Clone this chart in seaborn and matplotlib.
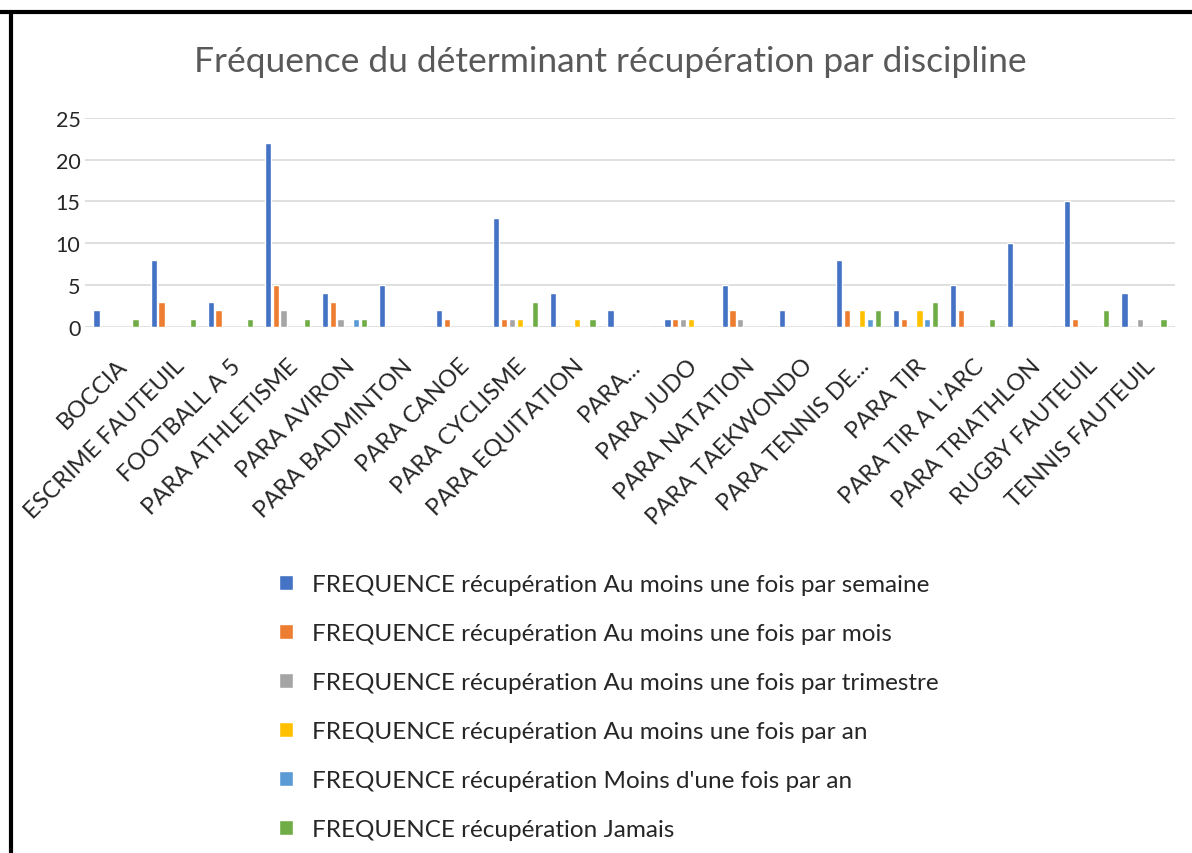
import numpy as np
import pandas as pd
import matplotlib
matplotlib.use('Agg')
import matplotlib.pyplot as plt
from matplotlib.lines import Line2D
import seaborn as sns

# ------------------------------------------------------------
# données
# ------------------------------------------------------------
disciplines = ['BOCCIA', 'ESCRIME FAUTEUIL', 'FOOTBALL A 5', 'PARA ATHLETISME',
               'PARA AVIRON', 'PARA BADMINTON', 'PARA CANOE', 'PARA CYCLISME',
               'PARA EQUITATION', 'PARA...', 'PARA JUDO', 'PARA NATATION',
               'PARA TAEKWONDO', 'PARA TENNIS DE...', 'PARA TIR', "PARA TIR A L'ARC",
               'PARA TRIATHLON', 'RUGBY FAUTEUIL', 'TENNIS FAUTEUIL']

semaine   = [2, 8, 3, 22, 4, 5, 2, 13, 4, 2, 1, 5, 2, 8, 2, 5, 10, 15, 4]
mois      = [0, 3, 2, 5, 3, 0, 1, 1, 0, 0, 1, 2, 0, 2, 1, 2, 0, 1, 0]
trimestre = [0, 0, 0, 2, 1, 0, 0, 1, 0, 0, 1, 1, 0, 0, 0, 0, 0, 0, 1]
an        = [0, 0, 0, 0, 0, 0, 0, 1, 1, 0, 1, 0, 0, 2, 2, 0, 0, 0, 0]
moins_an  = [0, 0, 0, 0, 1, 0, 0, 0, 0, 0, 0, 0, 0, 1, 1, 0, 0, 0, 0]
jamais    = [1, 1, 1, 1, 1, 0, 0, 3, 1, 0, 0, 0, 0, 2, 3, 1, 0, 2, 1]

series = ['FREQUENCE récupération Au moins une fois par semaine',
          'FREQUENCE récupération Au moins une fois par mois',
          'FREQUENCE récupération Au moins une fois par trimestre',
          'FREQUENCE récupération Au moins une fois par an',
          "FREQUENCE récupération Moins d'une fois par an",
          'FREQUENCE récupération Jamais']
couleurs = ['#4472C4', '#ED7D31', '#A5A5A5', '#FFC000', '#5B9BD5', '#70AD47']

valeurs = [semaine, mois, trimestre, an, moins_an, jamais]
rows = []
for nom, vals in zip(series, valeurs):
    for d, v in zip(disciplines, vals):
        rows.append({'discipline': d, 'serie': nom, 'valeur': v})
df = pd.DataFrame(rows)

# ------------------------------------------------------------
# figure
# ------------------------------------------------------------
sns.set_style('white')
plt.rcParams['font.family'] = ['Lato', 'DejaVu Sans']

fig = plt.figure(figsize=(11.92, 8.54), dpi=100)
ax = fig.add_axes([0.071, 0.616, 0.915, 0.245])

sns.barplot(data=df, x='discipline', y='valeur', hue='serie',
            hue_order=series, palette=couleurs, order=disciplines,
            width=0.82, gap=0.2, saturation=1, errorbar=None, ax=ax, legend=True)

ax.set_ylim(0, 25)
ax.set_yticks([0, 5, 10, 15, 20, 25])
ax.set_xlim(-0.55, len(disciplines) - 0.45)
ax.yaxis.grid(True, color='#D9D9D9', linewidth=1.2)
ax.set_axisbelow(True)
for s in ax.spines.values():
    s.set_visible(False)
ax.set_xlabel('')
ax.set_ylabel('')
ax.tick_params(axis='y', length=0, labelsize=15.5, pad=3)
ax.tick_params(axis='x', length=0, labelsize=17, pad=20)
plt.setp(ax.get_xticklabels(), rotation=45, ha='right', rotation_mode='anchor',
         color='#262626')

fig.text(0.512, 0.927, 'Fréquence du déterminant récupération par discipline',
         ha='center', va='center', fontsize=25.5, color='#595959')

handles, labels = ax.get_legend_handles_labels()
ax.get_legend().remove()
fig.legend(handles, labels, loc='upper left', bbox_to_anchor=(0.216, 0.352),
           frameon=False, fontsize=17.5, labelspacing=1.15, handlelength=0.55,
           handleheight=0.6, handletextpad=0.8, labelcolor='#262626')

# cadre noir de la capture
fig.add_artist(Line2D([0, 1], [0.985, 0.985], color='black', linewidth=3,
                      transform=fig.transFigure))
fig.add_artist(Line2D([0.009, 0.009], [0, 0.985], color='black', linewidth=3,
                      transform=fig.transFigure))

plt.savefig('out.png', dpi=100)
